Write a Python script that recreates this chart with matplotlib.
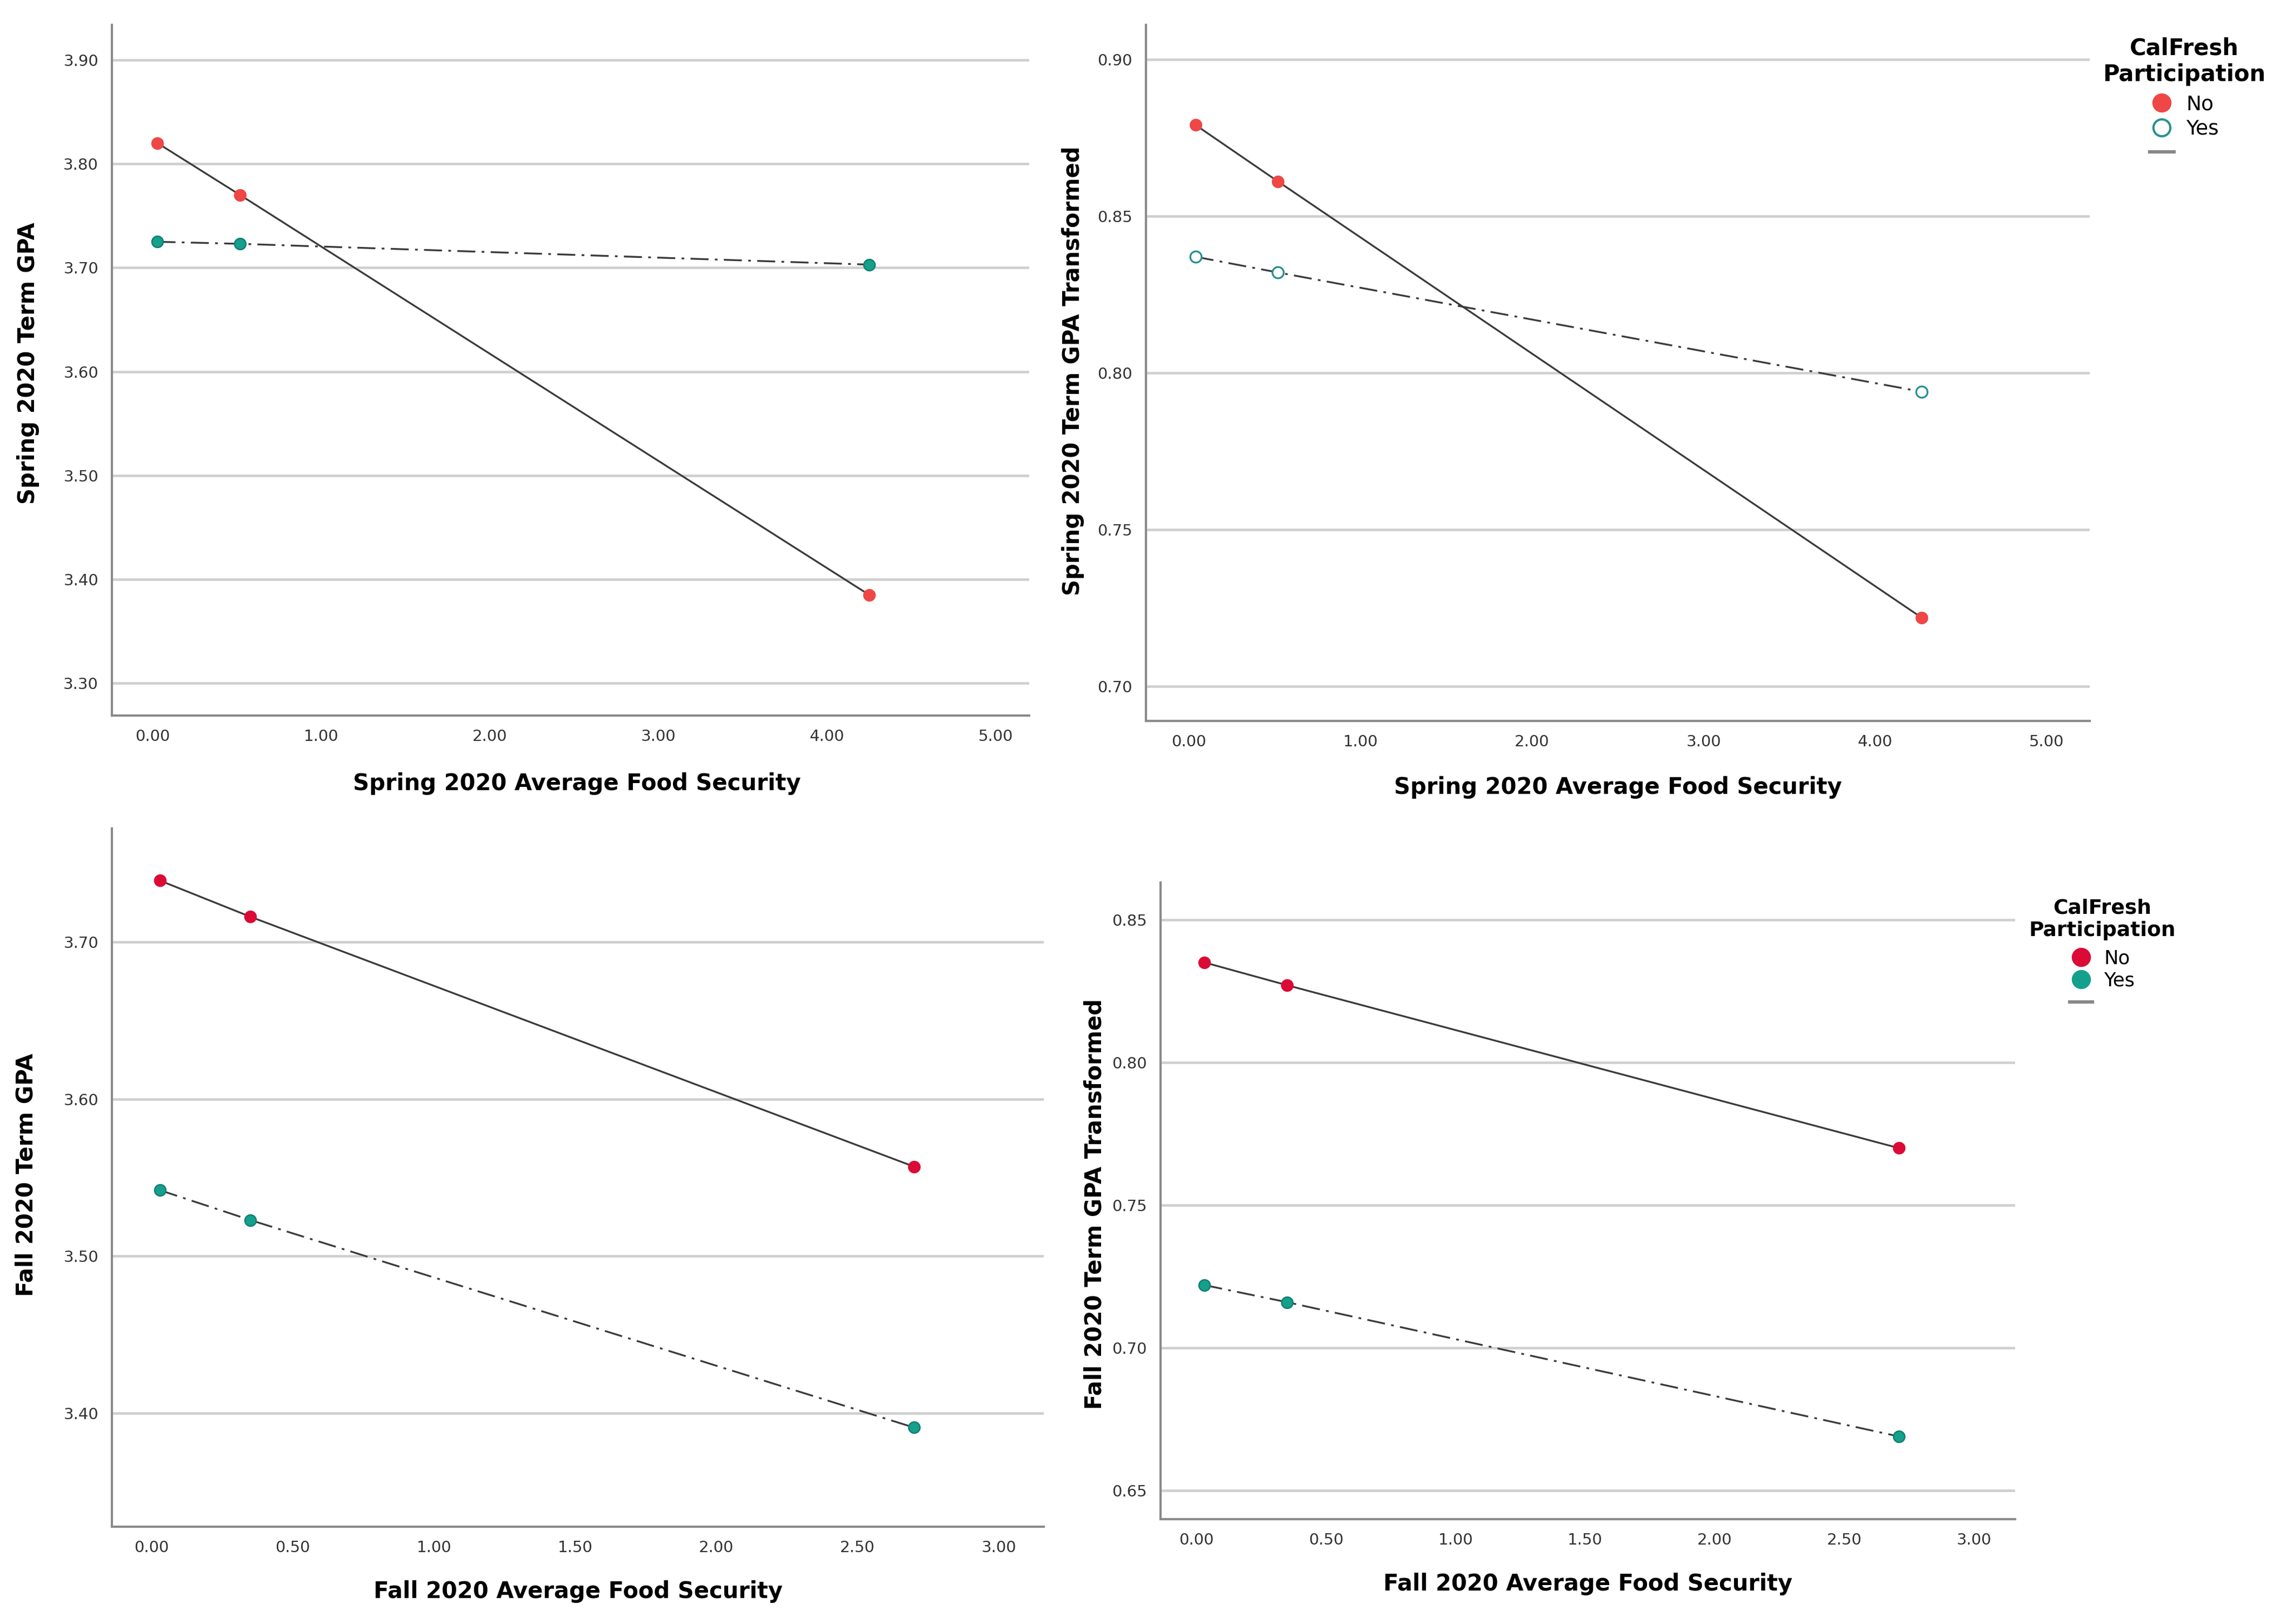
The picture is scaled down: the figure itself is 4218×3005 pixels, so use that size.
import matplotlib
matplotlib.use("Agg")
import matplotlib.pyplot as plt
from matplotlib.lines import Line2D

plt.rcParams['font.family'] = ['DejaVu Sans']

## Data

# Spring 2020, term GPA
spr_x = [0.03, 0.52, 4.25]
spr_gpa_no = [3.820, 3.770, 3.385]
spr_gpa_yes = [3.725, 3.723, 3.703]

# Spring 2020, transformed GPA
spr_xt = [0.04, 0.52, 4.27]
spr_tr_no = [0.879, 0.861, 0.722]
spr_tr_yes = [0.837, 0.832, 0.794]

# Fall 2020, term GPA
fall_x = [0.03, 0.35, 2.70]
fall_gpa_no = [3.739, 3.716, 3.557]
fall_gpa_yes = [3.542, 3.523, 3.391]

# Fall 2020, transformed GPA
fall_xt = [0.03, 0.35, 2.71]
fall_tr_no = [0.835, 0.827, 0.770]
fall_tr_yes = [0.722, 0.716, 0.669]

spr_xticks = [0, 1, 2, 3, 4, 5]
fall_xticks = [0, 0.5, 1, 1.5, 2, 2.5, 3]

legend_title = "CalFresh\nParticipation"
groups = ["No", "Yes"]

## Styles
line_col = "#3a3a3a"
dashdot = (0, (10, 3.5, 1.5, 3.5))
red_a = "#ef4646"
red_b = "#dc0a36"
teal = "#14a08c"

fig = plt.figure(figsize=(14.06, 10.0167), dpi=300)


def setup(ax, xticks, yticks, xlim, ylim, xlabel, ylabel, xlab_pos, ylab_pos):
    ax.set_xlim(*xlim)
    ax.set_ylim(*ylim)
    ax.set_xticks(xticks)
    ax.set_xticklabels(["%.2f" % t for t in xticks])
    ax.set_yticks(yticks)
    ax.set_yticklabels(["%.2f" % t for t in yticks])
    for t in yticks:
        ax.axhline(t, color="#cfcfcf", lw=1.1, zorder=0)
    for s in ["top", "right"]:
        ax.spines[s].set_visible(False)
    for s in ["left", "bottom"]:
        ax.spines[s].set_color("#8a8a8a")
        ax.spines[s].set_linewidth(1.0)
    ax.tick_params(length=0, labelsize=7, colors="#333333", pad=6)
    ax.set_xlabel(xlabel, fontsize=10, fontweight="bold")
    ax.set_ylabel(ylabel, fontsize=10, fontweight="bold")
    ax.xaxis.set_label_coords(*xlab_pos)
    ax.yaxis.set_label_coords(*ylab_pos)


def draw(ax, x, no, yes, red, yes_hollow=False):
    ax.plot(x, no, color=line_col, lw=0.8, zorder=2)
    ax.plot(x, yes, color=line_col, lw=0.8, ls=dashdot, zorder=2)
    ax.plot(x, no, "o", ms=5, mfc=red, mec=red, mew=0.6, zorder=3)
    if yes_hollow:
        ax.plot(x, yes, "o", ms=5, mfc="white", mec="#2a9090", mew=0.8, zorder=3)
    else:
        ax.plot(x, yes, "o", ms=5, mfc=teal, mec="#0f7f70", mew=0.6, zorder=3)


def add_legend(red, yes_hollow, anchor, tsize, lsize, spacing):
    if yes_hollow:
        yes_h = Line2D([], [], ls="none", marker="o", ms=7.5, mfc="white",
                       mec="#2a9090", mew=1.0)
    else:
        yes_h = Line2D([], [], ls="none", marker="o", ms=7.5, mfc=teal, mec=teal)
    no_h = Line2D([], [], ls="none", marker="o", ms=7.5, mfc=red, mec=red)
    fit_h = Line2D([], [], color="#888888", lw=1.5)
    leg = fig.legend([no_h, yes_h, fit_h], groups + [""], loc="upper center",
                     bbox_to_anchor=anchor, frameon=False, fontsize=lsize,
                     title=legend_title, handlelength=1.2, handletextpad=0.6,
                     labelspacing=spacing, borderpad=0.2)
    leg.get_title().set_fontweight("bold")
    leg.get_title().set_fontsize(tsize)
    leg.get_title().set_multialignment("center")
    leg._legend_box.sep = 4


# Top left
ax1 = fig.add_axes([0.0491, 0.5595, 0.4024, 0.4253])
setup(ax1, spr_xticks, [3.3, 3.4, 3.5, 3.6, 3.7, 3.8, 3.9], (-0.24, 5.2), (3.269, 3.934),
      "Spring 2020 Average Food Security", "Spring 2020 Term GPA",
      (0.507, -0.082), (-0.079, 0.51))
draw(ax1, spr_x, spr_gpa_no, spr_gpa_yes, red_a)

# Top right
ax2 = fig.add_axes([0.5026, 0.556, 0.4139, 0.4288])
setup(ax2, spr_xticks, [0.70, 0.75, 0.80, 0.85, 0.90], (-0.25, 5.25), (0.689, 0.911),
      "Spring 2020 Average Food Security", "Spring 2020 Term GPA Transformed",
      (0.50, -0.079), (-0.065, 0.503))
draw(ax2, spr_xt, spr_tr_no, spr_tr_yes, red_a, yes_hollow=True)
add_legend(red_a, True, (0.958, 0.986), 10, 9, 0.25)

# Bottom left
ax3 = fig.add_axes([0.0491, 0.060, 0.4088, 0.4297])
setup(ax3, fall_xticks, [3.4, 3.5, 3.6, 3.7], (-0.14, 3.16), (3.328, 3.772),
      "Fall 2020 Average Food Security", "Fall 2020 Term GPA",
      (0.50, -0.077), (-0.080, 0.504))
draw(ax3, fall_x, fall_gpa_no, fall_gpa_yes, red_b)

# Bottom right
ax4 = fig.add_axes([0.5089, 0.0645, 0.375, 0.3921])
setup(ax4, fall_xticks, [0.65, 0.70, 0.75, 0.80, 0.85], (-0.14, 3.16), (0.640, 0.863),
      "Fall 2020 Average Food Security", "Fall 2020 Term GPA Transformed",
      (0.50, -0.084), (-0.063, 0.495))
draw(ax4, fall_xt, fall_tr_no, fall_tr_yes, red_b)
add_legend(red_b, False, (0.922, 0.455), 9, 8.5, 0.2)

fig.savefig("out.png", dpi=300)
